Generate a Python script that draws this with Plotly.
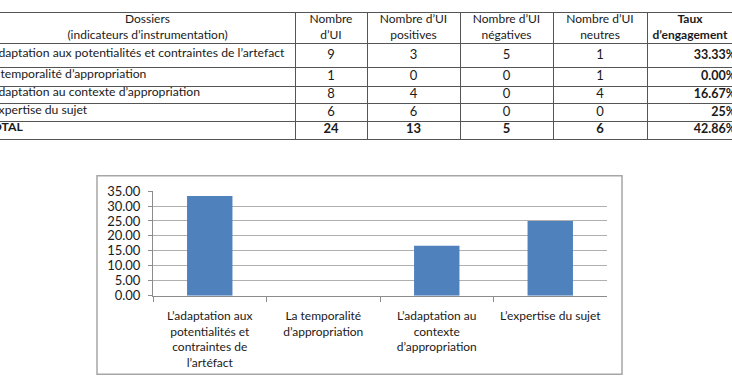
import plotly.graph_objects as go

# ---------------- data ----------------
table_labels = [
    "L’adaptation aux potentialités et contraintes de l’artefact",
    "La temporalité d’appropriation",
    "L’adaptation au contexte d’appropriation",
    "L’expertise du sujet",
    "TOTAL",
]
nombre_ui = ["9", "1", "8", "6", "24"]
ui_positives = ["3", "0", "4", "6", "13"]
ui_negatives = ["5", "0", "0", "0", "5"]
ui_neutres = ["1", "1", "4", "0", "6"]
taux_labels = ["33.33%", "0.00%", "16.67%", "25%", "42.86%"]
header_labels = [
    "Dossiers<br>(indicateurs d’instrumentation)",
    "Nombre<br>d’UI",
    "Nombre d’UI<br>positives",
    "Nombre d’UI<br>négatives",
    "Nombre d’UI<br>neutres",
    "<b>Taux<br>d’engagement</b>",
]

bar_categories = [
    "L’adaptation aux<br>potentialités et<br>contraintes de<br>l’artéfact",
    "La temporalité<br>d’appropriation",
    "L’adaptation au<br>contexte<br>d’appropriation",
    "L’expertise du sujet",
]
bar_values = [33.33, 0.00, 16.67, 25.00]

# ---------------- layout constants ----------------
W, H = 732, 388
FONT = "Lato"
TXT = "#1a1a1a"
# table geometry (pixel units of the table axes)
col_bounds = [0, 295, 367, 460, 553, 647, 735]
row_bounds = [5, 37, 62, 82, 100, 118, 137]

fig = go.Figure()

# ---------------- table (on x2/y2) ----------------
row_centers = [(row_bounds[i] + row_bounds[i + 1]) / 2 for i in range(1, 6)]
col_centers = [(col_bounds[i] + col_bounds[i + 1]) / 2 for i in range(6)]
col_centers[5] = 690

# header row
fig.add_trace(go.Scatter(
    x=col_centers, y=[(row_bounds[0] + row_bounds[1]) / 2] * 6,
    text=header_labels, mode="text", textposition="middle center",
    textfont=dict(family=FONT, size=12, color=TXT),
    xaxis="x2", yaxis="y2", cliponaxis=True, hoverinfo="skip", showlegend=False))

bold = lambda lst: [f"<b>{v}</b>" if i == len(lst) - 1 else v for i, v in enumerate(lst)]

# row labels (left aligned, clipped at the left edge like the reference crop)
fig.add_trace(go.Scatter(
    x=[-15] * 5, y=[y - 2 for y in row_centers],
    text=[("<b>%s</b>" % t) if t == "TOTAL" else t for t in table_labels],
    mode="text", textposition="middle right",
    textfont=dict(family=FONT, size=12.2, color=TXT),
    xaxis="x2", yaxis="y2", cliponaxis=True, hoverinfo="skip", showlegend=False))

for ci, col in enumerate([nombre_ui, ui_positives, ui_negatives, ui_neutres]):
    fig.add_trace(go.Scatter(
        x=[col_centers[ci + 1]] * 5, y=row_centers, text=bold(col),
        mode="text", textposition="middle center",
        textfont=dict(family=FONT, size=13, color=TXT),
        xaxis="x2", yaxis="y2", cliponaxis=True, hoverinfo="skip", showlegend=False))

fig.add_trace(go.Scatter(
    x=[736] * 5, y=row_centers, text=[f"<b>{t}</b>" for t in taux_labels],
    mode="text", textposition="middle left",
    textfont=dict(family=FONT, size=12.5, color=TXT),
    xaxis="x2", yaxis="y2", cliponaxis=True, hoverinfo="skip", showlegend=False))

# ---------------- bar chart ----------------
fig.add_trace(go.Bar(
    x=bar_categories, y=bar_values,
    marker=dict(color="#4F81BD", line=dict(width=0)),
    width=0.4, showlegend=False, hoverinfo="skip"))

fig.update_layout(
    width=W, height=H,
    margin=dict(l=0, r=0, t=0, b=0),
    paper_bgcolor="white", plot_bgcolor="white",
    font=dict(family=FONT, color=TXT),
    xaxis=dict(
        domain=[153 / W, 607 / W], type="category",
        tickson="boundaries", ticks="outside", ticklen=5, tickcolor="#8c8c8c",
        showline=True, linecolor="#8c8c8c", linewidth=1, showgrid=False,
        tickfont=dict(family=FONT, size=12, color=TXT), tickangle=0,
        ticklabelstandoff=9, fixedrange=True),
    yaxis=dict(
        domain=[(H - 300) / H, (H - 191) / H], range=[0, 35], dtick=5,
        tickformat=".2f", showgrid=True, gridcolor="#b0b0b0", gridwidth=1,
        showline=True, linecolor="#8c8c8c", ticks="outside", ticklen=4,
        tickcolor="#8c8c8c", zeroline=False, ticklabelstandoff=5,
        tickfont=dict(family=FONT, size=13, color=TXT)),
    xaxis2=dict(
        domain=[0, 1], range=[0, W], anchor="y2",
        tickvals=col_bounds[1:6], showticklabels=False, ticks="",
        showgrid=True, gridcolor="#555555", gridwidth=1,
        showline=True, mirror=True, linecolor="#555555", linewidth=1,
        zeroline=False, fixedrange=True),
    yaxis2=dict(
        domain=[(H - row_bounds[-1]) / H, (H - row_bounds[0]) / H],
        range=[row_bounds[-1], row_bounds[0]], anchor="x2",
        tickvals=row_bounds[1:6], showticklabels=False, ticks="",
        showgrid=True, gridcolor="#555555", gridwidth=1,
        showline=False, zeroline=False, fixedrange=True),
    shapes=[dict(
        type="rect", xref="paper", yref="paper",
        x0=97 / W, x1=622 / W, y0=(H - 382) / H, y1=(H - 175) / H,
        line=dict(color="#a6a6a6", width=1.5), fillcolor="rgba(0,0,0,0)",
        layer="below")],
)

fig.write_html("out.html")
